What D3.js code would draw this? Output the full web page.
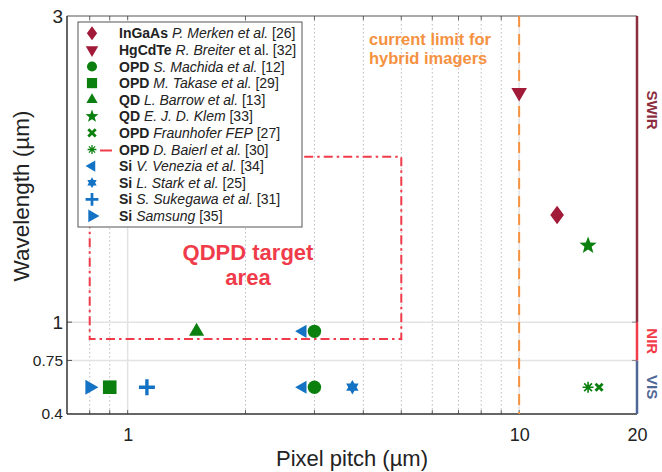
<!DOCTYPE html>
<html>
<head>
<meta charset="utf-8">
<script src="https://cdn.jsdelivr.net/npm/d3@7"></script>
<style>
  body { margin: 0; background: #fff; }
  text { font-family: "Liberation Sans", Arial, Helvetica, sans-serif; }
</style>
</head>
<body>
<div id="vis"></div>
<script>
// data
var techs   = ["InGaAs", "HgCdTe", "OPD", "OPD", "QD", "QD", "OPD", "OPD", "Si", "Si", "Si", "Si"];
var authors = ["P. Merken et al.", "R. Breiter", "S. Machida et al.", "M. Takase et al.", "L. Barrow et al.",
               "E. J. D. Klem", "Fraunhofer FEP", "D. Baierl et al.", "V. Venezia et al.", "L. Stark et al.",
               "S. Sukegawa et al.", "Samsung"];
var plainTail = ["", " et al.", "", "", "", "", "", "", "", "", "", ""];
var refs    = ["[26]", "[32]", "[12]", "[29]", "[13]", "[33]", " [27]", "[30]", "[34]", "[25]", "[31]", "[35]"];
var shapes  = ["diamond", "triDown", "circle", "square", "triUp", "star", "x", "asterisk",
               "triLeft", "hexagram", "plus", "triRight"];
var groups  = ["swir", "swir", "opd", "opd", "opd", "opd", "opd", "opd", "si", "si", "si", "si"];

// pixel pitch (um) and wavelength (um) of every point, per series
var pitches     = [[12.5], [10], [3, 3], [0.9], [1.5], [15], [16], [15], [2.8, 2.8], [3.75], [1.12], [0.8]];
var wavelengths = [[1.7], [2.5], [0.94, 0.575], [0.575], [0.94], [1.5], [0.575], [0.575], [0.94, 0.575], [0.575], [0.575], [0.575]];

// x ticks
var xTickLabels = [1, 10, 20];
var xMinorGrid  = [0.8, 0.9, 2, 3, 4, 5, 6, 7, 8, 9];
var xMajorGrid  = [1, 10];
// y ticks
var yTickLabels = [0.4, 0.75, 1, 3];
var yGrid       = [0.75, 1];

// spectral bands on the right edge
var bandLow   = [0.4, 0.75, 1];
var bandHigh  = [0.75, 1, 3];
var bandNames = ["VIS", "NIR", "SWIR"];

// QDPD target area: pitch range and wavelength range
var targetPitch = [0.8, 5];
var targetWl    = [0.89, 2.08];
var hybridLimit = 10;

/************ layout ************/
var width = 662, height = 472;
var margin = {top: 16, right: 25, bottom: 58, left: 67};

var colors = {swir: "#a11a37", opd: "#0b800f", si: "#1472c4"};
var bandColors = {VIS: "#4f6796", NIR: "#f23b49", SWIR: "#8b2d3e"};
var red = "#f03c4a", orange = "#f5913f";

var svg = d3.select('#vis').append('svg')
    .attr('width', width)
    .attr('height', height);

var x = d3.scaleLog()
    .domain([0.7, 20])
    .range([margin.left, width - margin.right]);

var y = d3.scaleLinear()
    .domain([0.4, 3])
    .range([height - margin.bottom, margin.top]);

var X0 = x.range()[0], X1 = x.range()[1], Y0 = y.range()[1], Y1 = y.range()[0];

/************ marker shapes (custom d3.symbol types, size = radius) ************/
function triangle(angle) {
    return {draw: function(c, r) {
        for (var k = 0; k < 3; k++) {
            var a = angle + k * 2 * Math.PI / 3;
            if (k === 0) c.moveTo(r * Math.cos(a), r * Math.sin(a));
            else c.lineTo(r * Math.cos(a), r * Math.sin(a));
        }
        c.closePath();
    }};
}
function starN(n, inner) {
    return {draw: function(c, r) {
        for (var k = 0; k < 2 * n; k++) {
            var a = -Math.PI / 2 + k * Math.PI / n;
            var rr = k % 2 === 0 ? r : r * inner;
            if (k === 0) c.moveTo(rr * Math.cos(a), rr * Math.sin(a));
            else c.lineTo(rr * Math.cos(a), rr * Math.sin(a));
        }
        c.closePath();
    }};
}
function rays(angles) {
    return {draw: function(c, r) {
        angles.forEach(function(deg) {
            var a = deg * Math.PI / 180;
            c.moveTo(-r * Math.cos(a), -r * Math.sin(a));
            c.lineTo(r * Math.cos(a), r * Math.sin(a));
        });
    }};
}
var symbolTypes = {
    diamond: {draw: function(c, r) {
        c.moveTo(0, -1.3 * r); c.lineTo(0.95 * r, 0); c.lineTo(0, 1.3 * r); c.lineTo(-0.95 * r, 0); c.closePath();
    }},
    circle: {draw: function(c, r) { c.moveTo(r, 0); c.arc(0, 0, r, 0, 2 * Math.PI); }},
    square: {draw: function(c, r) { c.rect(-r, -r, 2 * r, 2 * r); }},
    triUp: triangle(-Math.PI / 2),
    triDown: triangle(Math.PI / 2),
    triLeft: triangle(Math.PI),
    triRight: triangle(0),
    star: starN(5, 0.42),
    hexagram: starN(6, 0.58),
    plus: rays([0, 90]),
    x: rays([45, 135]),
    asterisk: rays([0, 45, 90, 135])
};
var symbolRadius = {diamond: 7.2, circle: 6.7, square: 6.8, triUp: 8.7, triDown: 9, triLeft: 7.6,
                    triRight: 8.7, star: 9, hexagram: 7.2, plus: 8, x: 5, asterisk: 5.5};
var strokeW = {plus: 3.4, x: 2.8, asterisk: 1.6};
// legend markers are drawn a bit smaller, except a few
var legendScale = {x: 1.05, asterisk: 0.8, plus: 0.8, triDown: 0.8, triLeft: 0.85, triRight: 0.85};

function drawMarker(sel, shape, color, scale) {
    var r = symbolRadius[shape] * scale;
    var p = sel.append('path').attr('d', d3.symbol(symbolTypes[shape], r)());
    if (strokeW[shape]) {
        p.attr('fill', 'none').attr('stroke', color).attr('stroke-width', strokeW[shape] * Math.min(scale, 1));
    } else {
        p.attr('fill', color);
    }
    return p;
}

/************ grid ************/
var grid = svg.append('g');
grid.selectAll('.minor').data(xMinorGrid).enter().append('line')
    .attr('x1', function(d) { return x(d); }).attr('x2', function(d) { return x(d); })
    .attr('y1', Y0).attr('y2', Y1)
    .attr('stroke', '#bdbdbd').attr('stroke-width', 1).attr('stroke-dasharray', '1.5,2.5');
grid.selectAll('.major').data(xMajorGrid).enter().append('line')
    .attr('x1', function(d) { return x(d); }).attr('x2', function(d) { return x(d); })
    .attr('y1', Y0).attr('y2', Y1)
    .attr('stroke', '#e3e3e3').attr('stroke-width', 1.5);
grid.selectAll('.ygrid').data(yGrid).enter().append('line')
    .attr('x1', X0).attr('x2', X1)
    .attr('y1', function(d) { return y(d); }).attr('y2', function(d) { return y(d); })
    .attr('stroke', '#e3e3e3').attr('stroke-width', 1.5);

/************ axes ************/
var xAxis = d3.axisBottom(x).tickValues(xTickLabels).tickFormat(d3.format('d')).tickSize(0).tickPadding(14);
var gx = svg.append('g').attr('transform', 'translate(0,' + Y1 + ')').call(xAxis);
gx.select('.domain').remove();
gx.selectAll('text').attr('font-size', 18).attr('fill', '#222');

var yAxis = d3.axisLeft(y).tickValues(yTickLabels).tickFormat(function(d) { return String(d); })
    .tickSize(0).tickPadding(4);
var gy = svg.append('g').attr('transform', 'translate(' + X0 + ',0)').call(yAxis);
gy.select('.domain').remove();
gy.selectAll('text')
    .attr('font-size', function(d) { return d >= 1 ? 19 : 15.5; })
    .attr('fill', '#222');

// inner tick marks on all sides
var allX = xMinorGrid.concat(xMajorGrid);
svg.append('g').selectAll('line').data(allX).enter().append('line')
    .attr('x1', function(d) { return x(d); }).attr('x2', function(d) { return x(d); })
    .attr('y1', Y0).attr('y2', Y0 + 4).attr('stroke', '#666');
svg.append('g').selectAll('line').data(allX).enter().append('line')
    .attr('x1', function(d) { return x(d); }).attr('x2', function(d) { return x(d); })
    .attr('y1', Y1).attr('y2', Y1 - 4).attr('stroke', '#666');
svg.append('g').selectAll('line').data(yGrid).enter().append('line')
    .attr('x1', X0).attr('x2', X0 + 5)
    .attr('y1', function(d) { return y(d); }).attr('y2', function(d) { return y(d); }).attr('stroke', '#555');
svg.append('g').selectAll('line').data(yGrid).enter().append('line')
    .attr('x1', X1 - 5).attr('x2', X1)
    .attr('y1', function(d) { return y(d); }).attr('y2', function(d) { return y(d); }).attr('stroke', '#888');

// box
svg.append('line').attr('x1', X0).attr('x2', X1).attr('y1', Y0).attr('y2', Y0).attr('stroke', '#555').attr('stroke-width', 1.2);
svg.append('line').attr('x1', X0).attr('x2', X1).attr('y1', Y1).attr('y2', Y1).attr('stroke', '#333').attr('stroke-width', 1.5);
svg.append('line').attr('x1', X0).attr('x2', X0).attr('y1', Y0).attr('y2', Y1).attr('stroke', '#333').attr('stroke-width', 1.5);

// axis titles
svg.append('text').attr('x', 352).attr('y', 466).attr('text-anchor', 'middle')
    .attr('font-size', 22).attr('fill', '#222').text('Pixel pitch (µm)');
svg.append('text').attr('transform', 'translate(29,' + 196 + ') rotate(-90)').attr('text-anchor', 'middle')
    .attr('font-size', 22.5).attr('fill', '#222').text('Wavelength (µm)');

/************ spectral bands on right edge ************/
var bands = svg.append('g');
bandNames.forEach(function(name, i) {
    bands.append('line')
        .attr('x1', X1).attr('x2', X1)
        .attr('y1', y(bandLow[i])).attr('y2', y(bandHigh[i]))
        .attr('stroke', bandColors[name]).attr('stroke-width', 2.5);
    var cy = (y(bandLow[i]) + y(bandHigh[i])) / 2;
    if (name === 'SWIR') cy = 110;
    bands.append('text')
        .attr('transform', 'translate(' + (X1 + 10) + ',' + cy + ') rotate(90)')
        .attr('text-anchor', 'middle')
        .attr('font-size', 15).attr('font-weight', 'bold')
        .attr('fill', bandColors[name]).text(name);
});

/************ hybrid limit and target area ************/
svg.append('line')
    .attr('x1', x(hybridLimit)).attr('x2', x(hybridLimit))
    .attr('y1', Y0).attr('y2', Y1)
    .attr('stroke', orange).attr('stroke-width', 2).attr('stroke-dasharray', '11,7');
svg.append('text').attr('x', 369).attr('y', 45).attr('font-size', 16.5).attr('font-weight', 'bold')
    .attr('fill', orange).text('current limit for');
svg.append('text').attr('x', 369).attr('y', 64).attr('font-size', 16.5).attr('font-weight', 'bold')
    .attr('fill', orange).text('hybrid imagers');

svg.append('rect')
    .attr('x', x(targetPitch[0])).attr('y', y(targetWl[1]))
    .attr('width', x(targetPitch[1]) - x(targetPitch[0]))
    .attr('height', y(targetWl[0]) - y(targetWl[1]))
    .attr('fill', 'none').attr('stroke', red).attr('stroke-width', 2)
    .attr('stroke-dasharray', '9,4,2.5,4');
svg.append('text').attr('x', 248).attr('y', 260).attr('text-anchor', 'middle')
    .attr('font-size', 22).attr('font-weight', 'bold').attr('fill', red).text('QDPD target');
svg.append('text').attr('x', 248).attr('y', 285).attr('text-anchor', 'middle')
    .attr('font-size', 22).attr('font-weight', 'bold').attr('fill', red).text('area');

/************ data points ************/
var pts = svg.append('g');
techs.forEach(function(t, i) {
    pitches[i].forEach(function(p, j) {
        var g = pts.append('g').attr('transform', 'translate(' + x(p) + ',' + y(wavelengths[i][j]) + ')');
        drawMarker(g, shapes[i], colors[groups[i]], 1);
    });
});

/************ legend ************/
var legend = svg.append('g');
legend.append('rect').attr('x', 78).attr('y', 22).attr('width', 224).attr('height', 205)
    .attr('fill', '#fff').attr('stroke', '#555').attr('stroke-width', 1);
techs.forEach(function(t, i) {
    var ly = 33.3 + i * 16.6;
    var g = legend.append('g').attr('transform', 'translate(92,' + ly + ')');
    drawMarker(g, shapes[i], colors[groups[i]], legendScale[shapes[i]] || 0.75);
    if (shapes[i] === 'asterisk') {
        legend.append('line').attr('x1', 100).attr('x2', 112).attr('y1', ly + 1).attr('y2', ly + 1)
            .attr('stroke', red).attr('stroke-width', 2);
    }
    var txt = legend.append('text').attr('x', 119).attr('y', ly + 5)
        .attr('font-size', 14).attr('fill', '#222');
    txt.append('tspan').attr('font-weight', 'bold').text(t + ' ');
    txt.append('tspan').attr('font-style', 'italic').text(authors[i]);
    txt.append('tspan').text(plainTail[i] + ' ' + refs[i]);
});
</script>
</body>
</html>
